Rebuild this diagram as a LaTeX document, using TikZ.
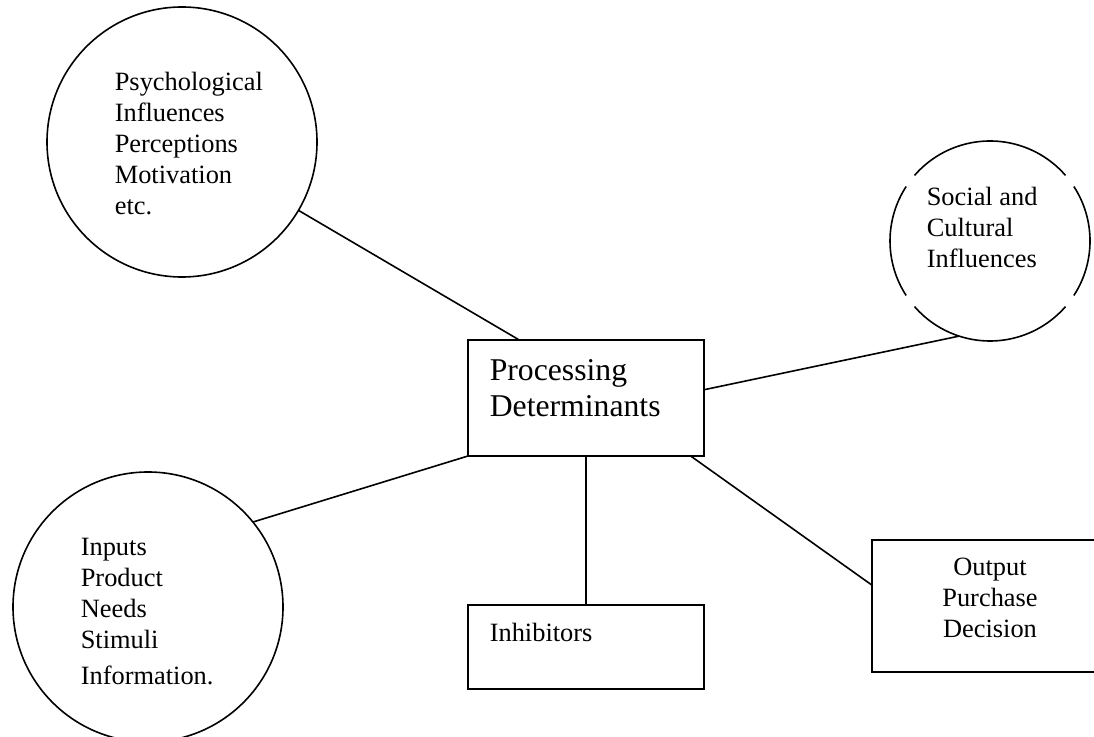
\documentclass[tikz,border=0pt]{standalone}
\usepackage{fontspec}
\setmainfont{Liberation Serif}

\begin{document}
\begin{tikzpicture}[x=1pt, y=1pt, line width=1.6pt,
  ring/.style={draw, circle, inner sep=0pt, outer sep=0pt},
  brokenring/.style={circle, inner sep=0pt, outer sep=0pt},
  box/.style={draw, rectangle, inner sep=0pt, outer sep=0pt, minimum width=236pt},
  txt/.style={inner sep=0pt, align=left, font=\fontsize{26.4}{31}\selectfont},
  bigtxt/.style={inner sep=0pt, align=left, font=\fontsize{31.7}{36}\selectfont}]

\useasboundingbox (0,0) rectangle (1094,736);
\clip (0,0) rectangle (1094,736);

\node[ring, minimum size=270pt] (psych) at (182,594) {};
\node[brokenring, minimum size=200pt] (social) at (990,495) {};
\node[ring, minimum size=270pt] (inputs) at (148,129) {};

\node[box, minimum height=116pt] (proc) at (586,338) {};
\node[box, minimum height=84pt] (inhib) at (586,89) {};
\node[box, minimum height=132pt] (output) at (990,130) {};

% outline of the social circle, with its four small gaps
\foreach \a/\b in {41/139, 147/213, 221/319, 327/393} {
\draw (social.center) ++(\a:100) arc[start angle=\a, end angle=\b, radius=100];
}

% texts sit on the baseline of their last line
\node[txt, anchor=base west] (psychtext) at (114,521) {Psychological\\Influences\\Perceptions\\Motivation\\etc.};
\node[txt, anchor=base west] (socialtext) at (926,468) {Social and\\Cultural\\Influences};
\node[txt, anchor=base west] (inputstext) at (80,52) {Inputs\\Product\\Needs\\Stimuli\\[5pt]Information.};

\node[bigtxt, anchor=base west] (proctext) at (489,319) {Processing\\Determinants};
\node[txt, anchor=base west] (inhibtext) at (489,95) {Inhibitors};
\node[txt, align=center, anchor=base] (outputtext) at (990,99) {Output\\Purchase\\Decision};

\draw (psych) -- (proc.139.5);
\draw (proc.4.4) -- (social.252);
\draw (proc.south west) -- (inputs.39);
\draw (proc.south) -- (inhib.north);
\draw (proc.-29.9) -- (output.170.9);

\end{tikzpicture}
\end{document}
